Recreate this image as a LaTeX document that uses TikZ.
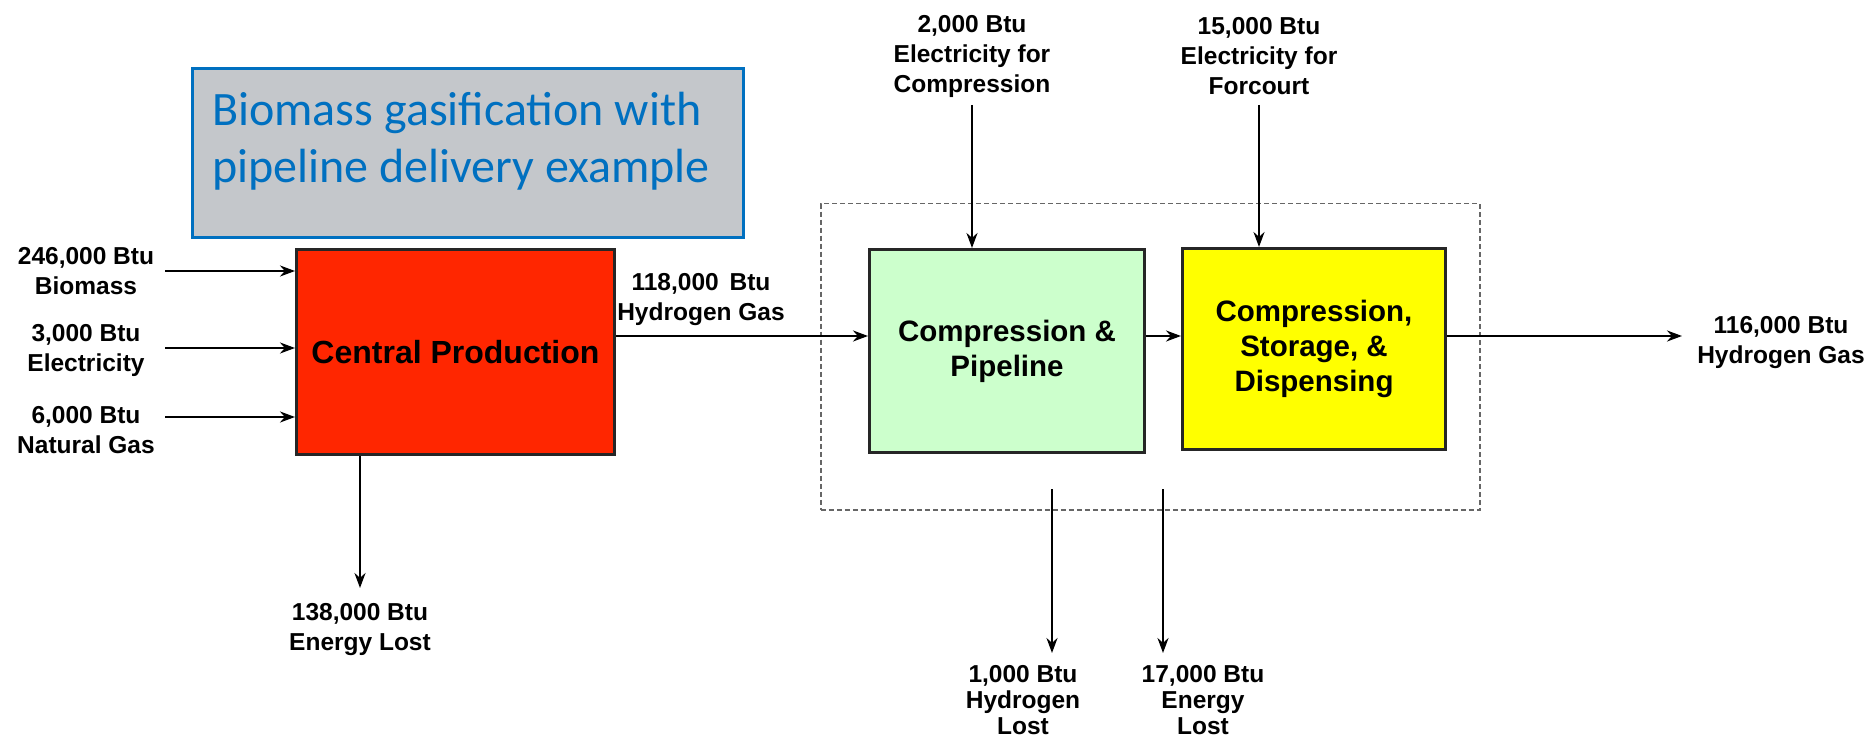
\documentclass[tikz,border=0pt]{standalone}
\usepackage{fontspec}
\setmainfont{Liberation Sans}
\newfontfamily\calibri{Carlito}
\usetikzlibrary{arrows.meta}
\definecolor{titleblue}{RGB}{0,112,192}
\definecolor{titlegray}{RGB}{196,199,203}
\definecolor{prodred}{RGB}{255,38,0}
\definecolor{pipegreen}{RGB}{204,255,204}
\definecolor{dispyellow}{RGB}{255,255,0}
\begin{document}
\begin{tikzpicture}[x=1pt,y=-1pt,
  lbl/.style={font=\fontsize{24.5}{30}\selectfont\bfseries, align=center, inner sep=0pt},
  lblb/.style={font=\fontsize{24.5}{26}\selectfont\bfseries, align=center, inner sep=0pt},
  procbox/.style={draw=black!85, line width=3pt, anchor=north west, inner sep=0pt,
    font=\fontsize{29.5}{35}\selectfont\bfseries, align=center},
  flow/.style={line width=2.2pt, -{Stealth[length=15pt,width=11pt]}},
]
\useasboundingbox (0,0) rectangle (1870,743);
\fill[white] (0,0) rectangle (1870,743);

% title
\node[draw=titleblue, line width=3pt, fill=titlegray, anchor=north west,
  minimum width=551pt, minimum height=169pt, inner sep=0pt] (title) at (191,67) {};
\node[anchor=west, text=titleblue, align=left, inner sep=0pt,
  font=\calibri\fontsize{48}{57}\selectfont] (titletext) at (212,141)
  {Biomass gasification with\\pipeline delivery example};

% group box
\node[draw=black!60, dashed, dash pattern=on 5pt off 3pt, line width=1.5pt, anchor=north west,
  minimum width=659pt, minimum height=306pt, inner sep=0pt] (grp) at (820,203) {};

% boxes
\node[procbox, fill=prodred, minimum width=318pt, minimum height=205pt,
  font=\fontsize{32}{38}\selectfont\bfseries] (cp) at (295,248) {Central Production};
\node[procbox, fill=pipegreen, minimum width=275pt, minimum height=203pt] (cpl) at (868,248) {Compression \&\\Pipeline};
\node[procbox, fill=dispyellow, minimum width=263pt, minimum height=201pt] (csd) at (1181,247) {Compression,\\Storage, \&\\Dispensing};

% input labels
\node[lbl] (in1) at (86,271) {246,000 Btu\\Biomass};
\node[lbl] (in2) at (86,350) {3,000 Btu\\Electricity};
\node[lbl] (in3) at (86,430) {6,000 Btu\\Natural Gas};
\coordinate (a1) at (165,271);
\coordinate (a2) at (165,348);
\coordinate (a3) at (165,417);
\draw[flow] (a1) -- (a1 -| cp.west);
\draw[flow] (a2) -- (a2 -| cp.west);
\draw[flow] (a3) -- (a3 -| cp.west);

% energy lost
\node[lbl] (lost1) at (360,630) {138,000 Btu\\Energy Lost};
\coordinate (l1) at (360,588);
\draw[flow] (l1 |- cp.south) -- (l1);

% hydrogen gas
\node[lbl] (h2a) at (701,300) {118,000\,\ Btu\\Hydrogen Gas};
\coordinate (m1) at (613,336);
\draw[flow] (m1 -| cp.east) -- (m1 -| cpl.west);
\draw[flow] (m1 -| cpl.east) -- (m1 -| csd.west);
\node[lbl] (h2b) at (1781,343) {116,000 Btu\\Hydrogen Gas};
\coordinate (o1) at (1682,336);
\draw[flow] (o1 -| csd.east) -- (o1);

% top inputs
\node[lbl] (e2) at (972,56) {2,000 Btu\\Electricity for\\Compression};
\node[lbl] (e15) at (1259,56) {15,000 Btu\\Electricity for\\Forcourt};
\coordinate (t1) at (972,105);
\coordinate (t2) at (1259,105);
\draw[flow] (t1) -- (t1 |- cpl.north);
\draw[flow] (t2) -- (t2 |- csd.north);

% bottom losses
\coordinate (b1s) at (1052,489);
\coordinate (b1e) at (1052,653);
\coordinate (b2s) at (1163,489);
\coordinate (b2e) at (1163,653);
\draw[flow] (b1s) -- (b1e);
\draw[flow] (b2s) -- (b2e);
\node[lblb] (hl) at (1023,700) {1,000 Btu\\Hydrogen\\Lost};
\node[lblb] (el) at (1203,700) {17,000 Btu\\Energy\\Lost};
\end{tikzpicture}
\end{document}
